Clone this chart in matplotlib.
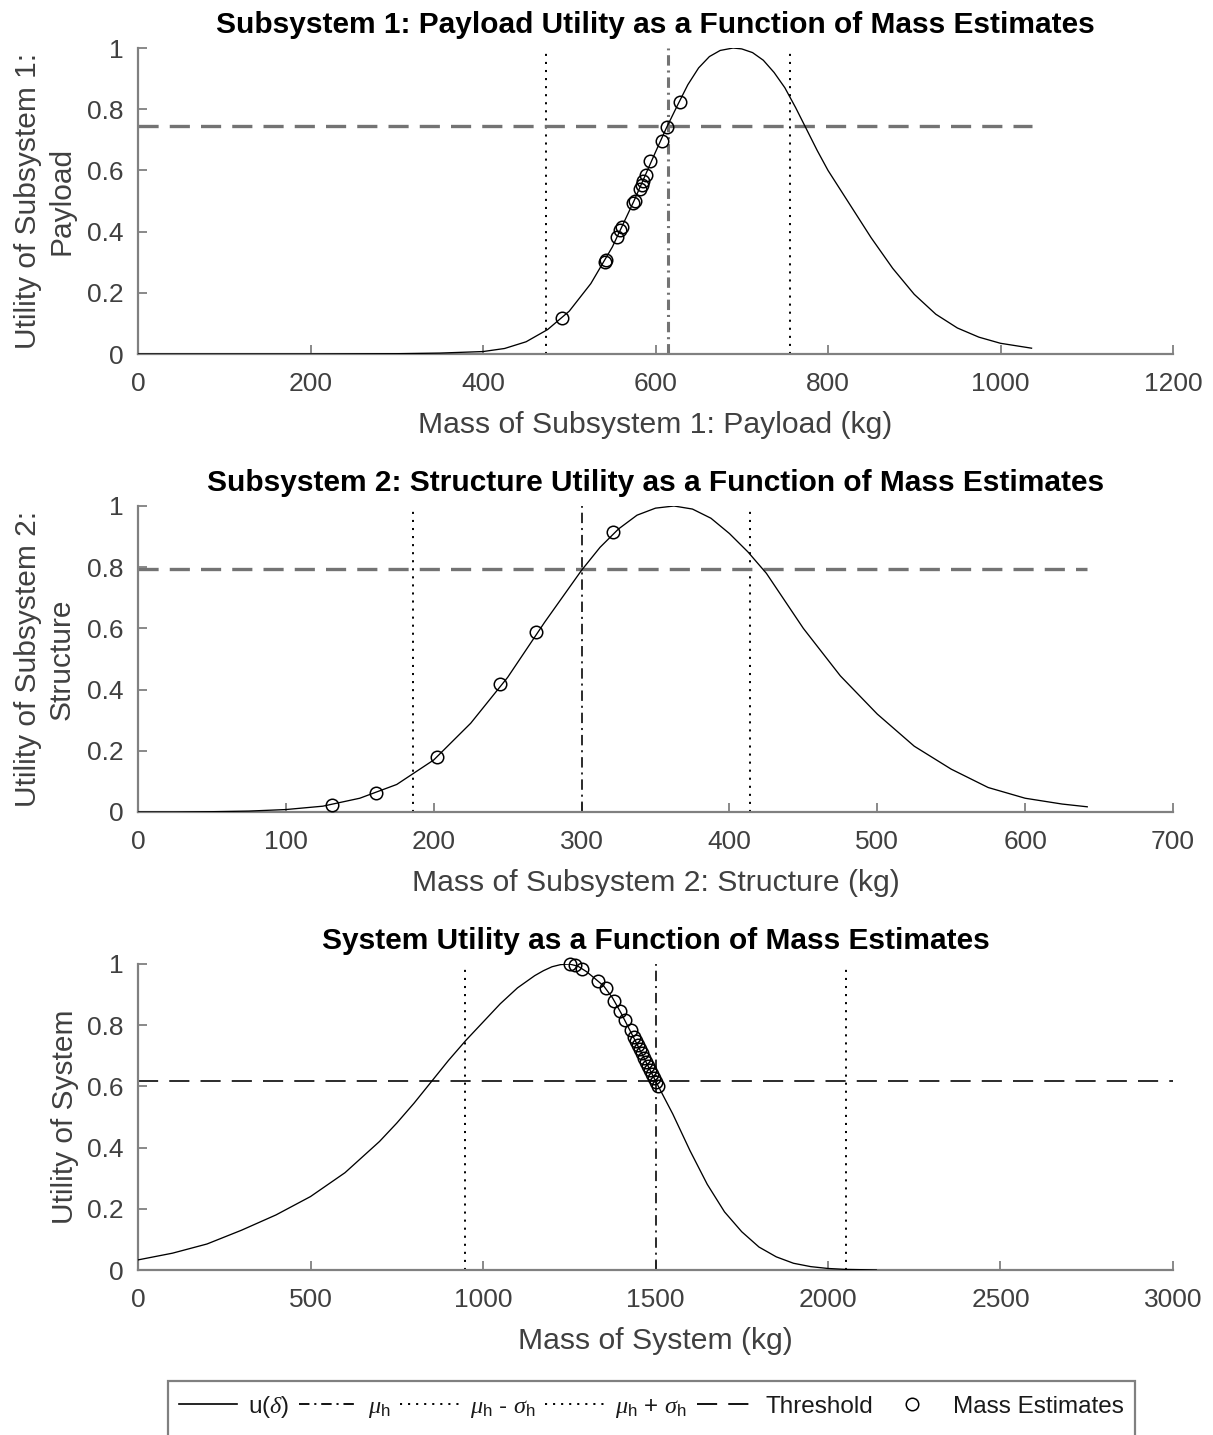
import matplotlib
matplotlib.use('Agg')
import matplotlib.pyplot as plt
from matplotlib.lines import Line2D
from matplotlib.patches import Rectangle

plt.rcParams['font.family'] = ['Liberation Sans', 'DejaVu Sans']
plt.rcParams['lines.scale_dashes'] = False
plt.rcParams['mathtext.fontset'] = 'custom'
plt.rcParams['mathtext.rm'] = 'Liberation Sans'
plt.rcParams['mathtext.it'] = 'Liberation Serif:italic'

# ---------------- data ----------------
# Subsystem 1: Payload
p1_curve_kg = [0, 100, 200, 300, 350, 400, 425, 450, 475, 500, 525, 550, 575, 600, 612.5, 625,
               637.5, 650, 662.5, 675, 690, 700, 712.5, 725, 737.5, 750, 762.5, 775, 787.5, 800,
               825, 850, 875, 900, 925, 950, 975, 1000, 1036]
p1_curve_u = [0.0, 0.0, 0.0, 0.001, 0.003, 0.008, 0.018, 0.04, 0.08, 0.14, 0.23, 0.35, 0.50, 0.66,
              0.738, 0.81, 0.88, 0.935, 0.972, 0.992, 1.0, 0.997, 0.985, 0.96, 0.92, 0.87, 0.805,
              0.735, 0.665, 0.60, 0.49, 0.38, 0.28, 0.195, 0.13, 0.085, 0.055, 0.035, 0.019]
p1_est_kg = [492, 541, 543, 555, 559, 561, 574, 576, 582, 584, 586, 589, 594, 607, 613, 628]
p1_est_u = [0.117, 0.300, 0.306, 0.383, 0.405, 0.415, 0.495, 0.500, 0.540, 0.553, 0.565, 0.585,
            0.631, 0.697, 0.741, 0.823]
p1_mu, p1_sigma = 614, 141.5
p1_threshold = 0.745
p1_threshold_end = 1036

# Subsystem 2: Structure
p2_curve_kg = [0, 25, 50, 75, 100, 125, 150, 175, 200, 225, 250, 275, 300, 312.5, 325, 337.5,
               350, 362.5, 375, 387.5, 400, 412.5, 425, 450, 475, 500, 525, 550, 575, 600, 625, 642]
p2_curve_u = [0.0, 0.0, 0.001, 0.003, 0.008, 0.019, 0.045, 0.09, 0.17, 0.29, 0.44, 0.62, 0.79,
              0.865, 0.925, 0.97, 0.993, 1.0, 0.99, 0.96, 0.91, 0.85, 0.78, 0.60, 0.445, 0.32,
              0.215, 0.14, 0.08, 0.045, 0.026, 0.017]
p2_est_kg = [131.5, 161, 202, 245, 269.5, 321]
p2_est_u = [0.023, 0.062, 0.18, 0.419, 0.589, 0.915]
p2_mu, p2_sigma = 300, 114
p2_threshold = 0.793
p2_threshold_end = 642

# System
s_curve_kg = [0, 100, 200, 300, 400, 500, 600, 700, 750, 800, 850, 900, 950, 1000, 1050, 1100,
              1150, 1175, 1200, 1225, 1250, 1275, 1300, 1325, 1350, 1375, 1400, 1450, 1500, 1550,
              1600, 1650, 1700, 1750, 1800, 1850, 1900, 1950, 2000, 2050, 2100, 2140]
s_curve_u = [0.033, 0.055, 0.085, 0.13, 0.18, 0.24, 0.318, 0.42, 0.48, 0.545, 0.615, 0.685, 0.75,
             0.81, 0.87, 0.922, 0.962, 0.978, 0.991, 0.998, 1.0, 0.993, 0.975, 0.952, 0.928, 0.89,
             0.84, 0.73, 0.618, 0.51, 0.39, 0.28, 0.19, 0.125, 0.075, 0.043, 0.022, 0.011, 0.005,
             0.002, 0.001, 0.0]
s_est_kg = [1252, 1267, 1287, 1333, 1357, 1380, 1397, 1412, 1429, 1438, 1443, 1449, 1455, 1461,
            1467, 1472, 1478, 1484, 1490, 1496, 1501, 1507]
s_est_u = [0.999, 0.996, 0.983, 0.943, 0.920, 0.880, 0.845, 0.816, 0.783, 0.760, 0.747, 0.734,
           0.721, 0.708, 0.694, 0.681, 0.668, 0.655, 0.642, 0.629, 0.616, 0.600]
s_mu, s_sigma = 1500, 553
s_threshold = 0.619
s_threshold_end = 3000

titles = ['Subsystem 1: Payload Utility as a Function of Mass Estimates',
          'Subsystem 2: Structure Utility as a Function of Mass Estimates',
          'System Utility as a Function of Mass Estimates']
xlabels = ['Mass of Subsystem 1: Payload (kg)', 'Mass of Subsystem 2: Structure (kg)',
           'Mass of System (kg)']
ylabels = ['Utility of Subsystem 1:\nPayload', 'Utility of Subsystem 2:\nStructure',
           'Utility of System']
xlims = [1200, 700, 3000]
xtick_steps = [200, 100, 500]
yticks = [0, 0.2, 0.4, 0.6, 0.8, 1]
ytick_labels = ['0', '0.2', '0.4', '0.6', '0.8', '1']
legend_labels = [r'u($\delta$)', r'$\mu_{\rm h}$', r'$\mu_{\rm h}$ - $\sigma_{\rm h}$',
                 r'$\mu_{\rm h}$ + $\sigma_{\rm h}$', 'Threshold', 'Mass Estimates']

# ---------------- layout / style ----------------
W, H = 1213, 1435
fig = plt.figure(figsize=(W / 100, H / 100), dpi=100)

def px_axes(l, t, r, b):
    return fig.add_axes([l / W, 1 - b / H, (r - l) / W, (b - t) / H])

boxes = [(138, 48, 1173, 354), (138, 506, 1173, 812), (138, 964, 1173, 1270)]
ylabel_x = [45, 45, 65]

panels = [
    dict(ck=p1_curve_kg, cu=p1_curve_u, ek=p1_est_kg, eu=p1_est_u, mu=p1_mu, sd=p1_sigma,
         thr=p1_threshold, thr_end=p1_threshold_end, mucol='0.45', mulw=2.2,
         thrcol='0.45', thrlw=2.4),
    dict(ck=p2_curve_kg, cu=p2_curve_u, ek=p2_est_kg, eu=p2_est_u, mu=p2_mu, sd=p2_sigma,
         thr=p2_threshold, thr_end=p2_threshold_end, mucol='0.1', mulw=1.3,
         thrcol='0.45', thrlw=2.4),
    dict(ck=s_curve_kg, cu=s_curve_u, ek=s_est_kg, eu=s_est_u, mu=s_mu, sd=s_sigma,
         thr=s_threshold, thr_end=s_threshold_end, mucol='0.1', mulw=1.3,
         thrcol='0.1', thrlw=1.3),
]

DOT = (1.5, 4.3)
DASHDOT = (7.5, 3.5, 1.5, 3.5)
DASH = (14.5, 8.0)

for i, p in enumerate(panels):
    ax = px_axes(*boxes[i])
    ax.plot(p['ck'], p['cu'], color='k', lw=0.95, zorder=3)
    ax.axvline(p['mu'], color=p['mucol'], lw=p['mulw'], dashes=DASHDOT, zorder=2)
    ax.axvline(p['mu'] - p['sd'], color='k', lw=1.4, dashes=DOT, zorder=2)
    ax.axvline(p['mu'] + p['sd'], color='k', lw=1.4, dashes=DOT, zorder=2)
    ax.hlines(p['thr'], 0, p['thr_end'], colors=p['thrcol'], lw=p['thrlw'],
              linestyles=[(0, DASH)], zorder=2)
    ax.plot(p['ek'], p['eu'], 'o', mfc='none', mec='k', ms=9, mew=1.1,
            clip_on=False, zorder=4)

    ax.set_xlim(0, xlims[i])
    ax.set_ylim(0, 1)
    ax.set_xticks(list(range(0, xlims[i] + 1, xtick_steps[i])))
    ax.set_yticks(yticks)
    ax.set_yticklabels(ytick_labels)
    for s in ['top', 'right']:
        ax.spines[s].set_visible(False)
    for s in ['left', 'bottom']:
        ax.spines[s].set_color('0.5')
        ax.spines[s].set_linewidth(1.6)
    ax.tick_params(direction='in', length=6.5, width=1.3, color='0.5',
                   labelsize=19, labelcolor='0.25')
    ax.tick_params(axis='x', pad=13)
    ax.tick_params(axis='y', pad=10.5)
    ax.set_xlabel(xlabels[i], fontsize=21.7, color='0.25', labelpad=11)
    ax.set_title(titles[i], fontsize=21.5, fontweight='bold', color='k', pad=11)
    l, t, r, b = boxes[i]
    fig.text(ylabel_x[i] / W, 1 - ((t + b) / 2) / H, ylabels[i], rotation=90,
             ha='center', va='center', multialignment='center', fontsize=21.5,
             color='0.25', linespacing=1.25)

# ---------------- legend ----------------
handles = [
    Line2D([], [], color='k', lw=1.2),
    Line2D([], [], color='k', lw=1.3, dashes=DASHDOT),
    Line2D([], [], color='k', lw=1.4, dashes=DOT),
    Line2D([], [], color='k', lw=1.4, dashes=DOT),
    Line2D([], [], color='k', lw=1.3, dashes=DASH),
    Line2D([], [], ls='none', marker='o', mfc='none', mec='k', ms=9, mew=1.1),
]
fig.legend(handles, legend_labels, loc='center', ncol=6, frameon=False,
           bbox_to_anchor=(651 / W, 1 - 1407 / H), fontsize=17.5,
           handlelength=2.4, handletextpad=0.45, columnspacing=0.4,
           labelcolor='0.1')
fig.patches.append(Rectangle((168 / W, 1 - 1450 / H), (1135 - 168) / W, (1450 - 1381) / H,
                             transform=fig.transFigure, fill=False, edgecolor='0.5', lw=1.6))

fig.savefig('out.png', dpi=100)
